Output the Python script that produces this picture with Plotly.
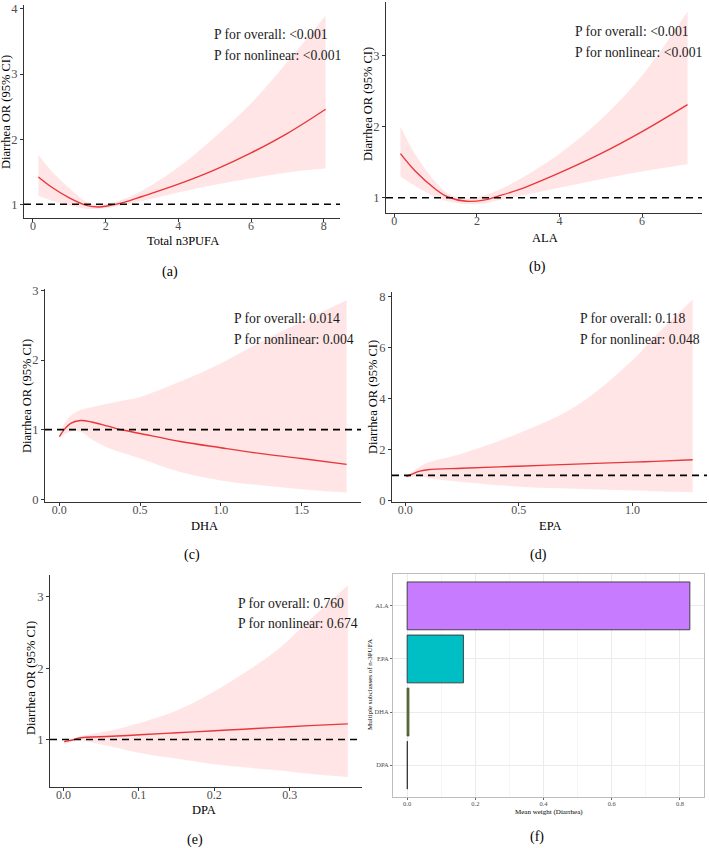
import plotly.graph_objects as go

W, H = 709, 848

SERIF    = "Liberation Serif, Times New Roman, serif"
RED      = "#E8373C"
BAND     = "rgba(255,0,0,0.10)"
AXIS     = "#333333"
TICK     = "#4D4D4D"
GRID     = "#EBEBEB"
GRID_MIN = "#F6F6F6"

# ---- (a) Total n3PUFA
a_x     = [0.15, 0.5, 1.0, 1.5, 1.8, 2.0, 2.5, 3.0, 4.0, 5.0, 6.0, 7.0, 8.05]
a_fit   = [1.42, 1.27, 1.10, 0.98, 0.96, 0.97, 1.03, 1.12, 1.31, 1.53, 1.79, 2.09, 2.46]
a_upper = [1.76, 1.52, 1.25, 1.03, 0.99, 1.00, 1.08, 1.21, 1.57, 2.03, 2.55, 3.19, 3.90]
a_lower = [1.13, 1.06, 0.98, 0.93, 0.93, 0.94, 0.99, 1.05, 1.18, 1.30, 1.40, 1.49, 1.55]

# ---- (b) ALA
b_x     = [0.15, 0.5, 1.0, 1.3, 1.75, 2.2, 2.5, 3.0, 4.0, 5.0, 6.0, 7.1]
b_fit   = [1.62, 1.38, 1.12, 1.01, 0.95, 0.97, 1.02, 1.11, 1.35, 1.62, 1.93, 2.31]
b_upper = [2.00, 1.62, 1.22, 1.06, 0.99, 1.04, 1.10, 1.25, 1.62, 2.10, 2.72, 3.62]
b_lower = [1.30, 1.17, 1.01, 0.95, 0.91, 0.92, 0.96, 1.02, 1.14, 1.26, 1.37, 1.47]

# ---- (c) DHA
c_x     = [0.0, 0.03, 0.07, 0.13, 0.2, 0.3, 0.4, 0.5, 0.75, 1.0, 1.25, 1.5, 1.78]
c_fit   = [0.90, 1.00, 1.09, 1.13, 1.11, 1.05, 0.99, 0.945, 0.83, 0.74, 0.655, 0.585, 0.50]
c_upper = [0.92, 1.08, 1.20, 1.28, 1.32, 1.37, 1.42, 1.47, 1.69, 1.95, 2.26, 2.55, 2.86]
c_lower = [0.88, 0.93, 0.97, 0.97, 0.86, 0.74, 0.66, 0.585, 0.39, 0.27, 0.20, 0.144, 0.096]

# ---- (d) EPA
d_x     = [0.005, 0.03, 0.06, 0.1, 0.25, 0.5, 0.75, 1.0, 1.1, 1.265]
d_fit   = [0.95, 1.05, 1.16, 1.22, 1.28, 1.36, 1.44, 1.52, 1.55, 1.61]
d_upper = [0.98, 1.12, 1.32, 1.50, 1.86, 2.65, 3.70, 5.50, 6.45, 7.88]
d_lower = [0.92, 0.95, 0.97, 0.90, 0.74, 0.56, 0.48, 0.41, 0.38, 0.34]

# ---- (e) DPA
e_x     = [0.001, 0.008, 0.015, 0.02, 0.064, 0.107, 0.151, 0.195, 0.239, 0.283, 0.326, 0.377]
e_fit   = [0.97, 0.985, 1.00, 1.02, 1.045, 1.07, 1.095, 1.12, 1.145, 1.17, 1.195, 1.22]
e_upper = [0.99, 1.01, 1.02, 1.04, 1.13, 1.25, 1.41, 1.645, 1.93, 2.25, 2.67, 3.16]
e_lower = [0.93, 0.96, 0.985, 0.99, 0.90, 0.80, 0.73, 0.66, 0.61, 0.57, 0.52, 0.475]

# ---- (f) mean weights
f_names   = ["ALA", "EPA", "DHA", "DPA"]
f_weights = [0.829, 0.165, 0.005, 0.001]

FILL = {"ALA": "#C77CFF", "EPA": "#00BFC4", "DHA": "#7CAE00", "DPA": "#F8766D"}

Y_TITLE = "Diarrhea OR (95% CI)"


def fx(p):
    return p / W


def fy(p):
    return 1 - p / H


# domain in px (l, r, t, b); text/label/title positions in px
PANELS = [
    dict(x=a_x, fit=a_fit, lo=a_lower, hi=a_upper, title="Total n3PUFA",
         xr=[-0.245, 8.445], yr=[0.79, 4.06], xt=[0, 2, 4, 6, 8], yt=[1, 2, 3, 4],
         dom=(24, 340, 5, 218), p=("<0.001", "<0.001"), txt=(212, 35), lab=("(a)", 170, 272),
         xt_pos=(183, 241), yt_pos=(6, 112)),
    dict(x=b_x, fit=b_fit, lo=b_lower, hi=b_upper, title="ALA",
         xr=[-0.2, 7.45], yr=[0.785, 3.755], xt=[0, 2, 4, 6], yt=[1, 2, 3],
         dom=(386, 702, 2, 213), p=("<0.001", "<0.001"), txt=(573, 32), lab=("(b)", 537, 267),
         xt_pos=(545, 238), yt_pos=(368, 104)),
    dict(x=c_x, fit=c_fit, lo=c_lower, hi=c_upper, title="DHA",
         xr=[-0.089, 1.869], yr=[-0.04, 3.02], xt=[0, 0.5, 1.0, 1.5], yt=[0, 1, 2, 3],
         dom=(45, 361, 289, 502), p=("0.014", "0.004"), txt=(232, 319), lab=("(c)", 192, 555),
         xt_pos=(204, 526), yt_pos=(27, 396)),
    dict(x=d_x, fit=d_fit, lo=d_lower, hi=d_upper, title="EPA",
         xr=[-0.058, 1.328], yr=[-0.04, 8.17], xt=[0, 0.5, 1.0], yt=[0, 2, 4, 6, 8],
         dom=(392, 707, 292, 502), p=("0.118", "0.048"), txt=(578, 319), lab=("(d)", 538, 555),
         xt_pos=(550, 526), yt_pos=(373, 397)),
    dict(x=e_x, fit=e_fit, lo=e_lower, hi=e_upper, title="DPA",
         xr=[-0.0178, 0.3958], yr=[0.335, 3.305], xt=[0, 0.1, 0.2, 0.3], yt=[1, 2, 3],
         dom=(50, 362, 575, 787), p=("0.760", "0.674"), txt=(236, 603), lab=("(e)", 195, 840),
         xt_pos=(204, 810), yt_pos=(31, 678)),
]


def _axis(dom, rng, vals, text, size=12.5):
    return dict(
        domain=dom, range=rng, tickvals=vals, ticktext=text,
        showline=True, linecolor=AXIS, linewidth=1,
        ticks="outside", ticklen=3, tickcolor=AXIS, tickwidth=1,
        tickfont=dict(family=SERIF, size=size, color=TICK),
        showgrid=False, zeroline=False, fixedrange=True,
    )


def _text(text, px, py, size, anchor="center", angle=0, color="black"):
    return dict(text=text, xref="paper", yref="paper", x=fx(px), y=fy(py),
                xanchor=anchor, yanchor="middle", showarrow=False, textangle=angle,
                font=dict(family=SERIF, size=size, color=color))


fig = go.Figure()
layout = {}
shapes = []
annotations = []

for i, p in enumerate(PANELS, start=1):
    sfx = "" if i == 1 else str(i)
    xa, ya = f"x{sfx}", f"y{sfx}"
    fig.add_trace(go.Scatter(x=p["x"], y=p["lo"], mode="lines", line=dict(width=0, shape="spline"),
                             xaxis=xa, yaxis=ya, showlegend=False, hoverinfo="skip"))
    fig.add_trace(go.Scatter(x=p["x"], y=p["hi"], mode="lines", line=dict(width=0, shape="spline"),
                             fill="tonexty", fillcolor=BAND,
                             xaxis=xa, yaxis=ya, showlegend=False, hoverinfo="skip"))
    fig.add_trace(go.Scatter(x=p["x"], y=p["fit"], mode="lines",
                             line=dict(color=RED, width=1.4, shape="spline"),
                             xaxis=xa, yaxis=ya, showlegend=False))

    l, r, t, b = p["dom"]
    dec = any(v != int(v) for v in p["xt"])
    xtxt = [f"{v:.1f}" if dec else f"{v:g}" for v in p["xt"]]
    xax = _axis([fx(l), fx(r)], p["xr"], p["xt"], xtxt, size=12)
    xax.update(anchor=ya, ticklabelstandoff=-6)
    yax = _axis([fy(b), fy(t)], p["yr"], p["yt"], [f"{v:g}" for v in p["yt"]])
    yax.update(anchor=xa)
    layout[f"xaxis{sfx}"] = xax
    layout[f"yaxis{sfx}"] = yax

    shapes.append(dict(type="line", xref=f"{xa} domain", yref=ya, x0=0, x1=1, y0=1, y1=1,
                       line=dict(color="black", width=1.6, dash="7px,5px"), layer="above"))

    tx, ty = p["txt"]
    annotations.append(_text(f"P for overall: {p['p'][0]}", tx, ty, 13.7, "left", color="#1A1A1A"))
    annotations.append(_text(f"P for nonlinear: {p['p'][1]}", tx, ty + 20, 13.7, "left", color="#1A1A1A"))
    annotations.append(_text(p["title"], *p["xt_pos"], 12.5))
    annotations.append(_text(Y_TITLE, *p["yt_pos"], 12.5, angle=-90))
    lab, lx, ly = p["lab"]
    annotations.append(_text(lab, lx, ly, 14))

# ---- (f) bar panel
fig.add_trace(go.Bar(
    x=f_weights, y=f_names, orientation="h", width=0.9,
    marker=dict(color=[FILL[n] for n in f_names], line=dict(color="#333333", width=0.9)),
    xaxis="x6", yaxis="y6", showlegend=False,
))

layout["xaxis6"] = dict(
    domain=[fx(393), fx(704)], range=[-0.0415, 0.8705], anchor="y6",
    tickvals=[0, 0.2, 0.4, 0.6, 0.8], ticktext=["0.0", "0.2", "0.4", "0.6", "0.8"],
    showgrid=True, gridcolor=GRID, gridwidth=1,
    minor=dict(tickvals=[0.1, 0.3, 0.5, 0.7], showgrid=True, gridcolor=GRID_MIN, ticks=""),
    showline=True, mirror=True, linecolor="#BDBDBD", linewidth=1,
    ticks="outside", ticklen=2, tickcolor="#666666",
    tickfont=dict(family=SERIF, size=6.5, color=TICK), zeroline=False, fixedrange=True,
    ticklabelstandoff=-2,
)
layout["yaxis6"] = dict(
    domain=[fy(797), fy(574)], range=[-0.6, 3.6], anchor="x6",
    categoryorder="array", categoryarray=f_names[::-1],
    showgrid=True, gridcolor=GRID, gridwidth=1,
    showline=True, mirror=True, linecolor="#BDBDBD", linewidth=1,
    ticks="outside", ticklen=2, tickcolor="#666666",
    tickfont=dict(family=SERIF, size=6.5, color=TICK), zeroline=False, fixedrange=True,
)
annotations.append(_text("Mean weight (Diarrhea)", 549, 812, 7))
annotations.append(_text("Multiple subclasses of n-3PUFA", 370, 685, 7, angle=-90))
annotations.append(_text("(f)", 537, 837, 14))

fig.update_layout(
    **layout,
    template="none",
    width=W, height=H,
    margin=dict(l=0, r=0, t=0, b=0),
    paper_bgcolor="white",
    plot_bgcolor="white",
    font=dict(family=SERIF, color="black"),
    shapes=shapes,
    annotations=annotations,
    showlegend=False,
)

fig.write_html("out.html", config={"displayModeBar": False},
               post_script="document.body.style.margin='0';")
